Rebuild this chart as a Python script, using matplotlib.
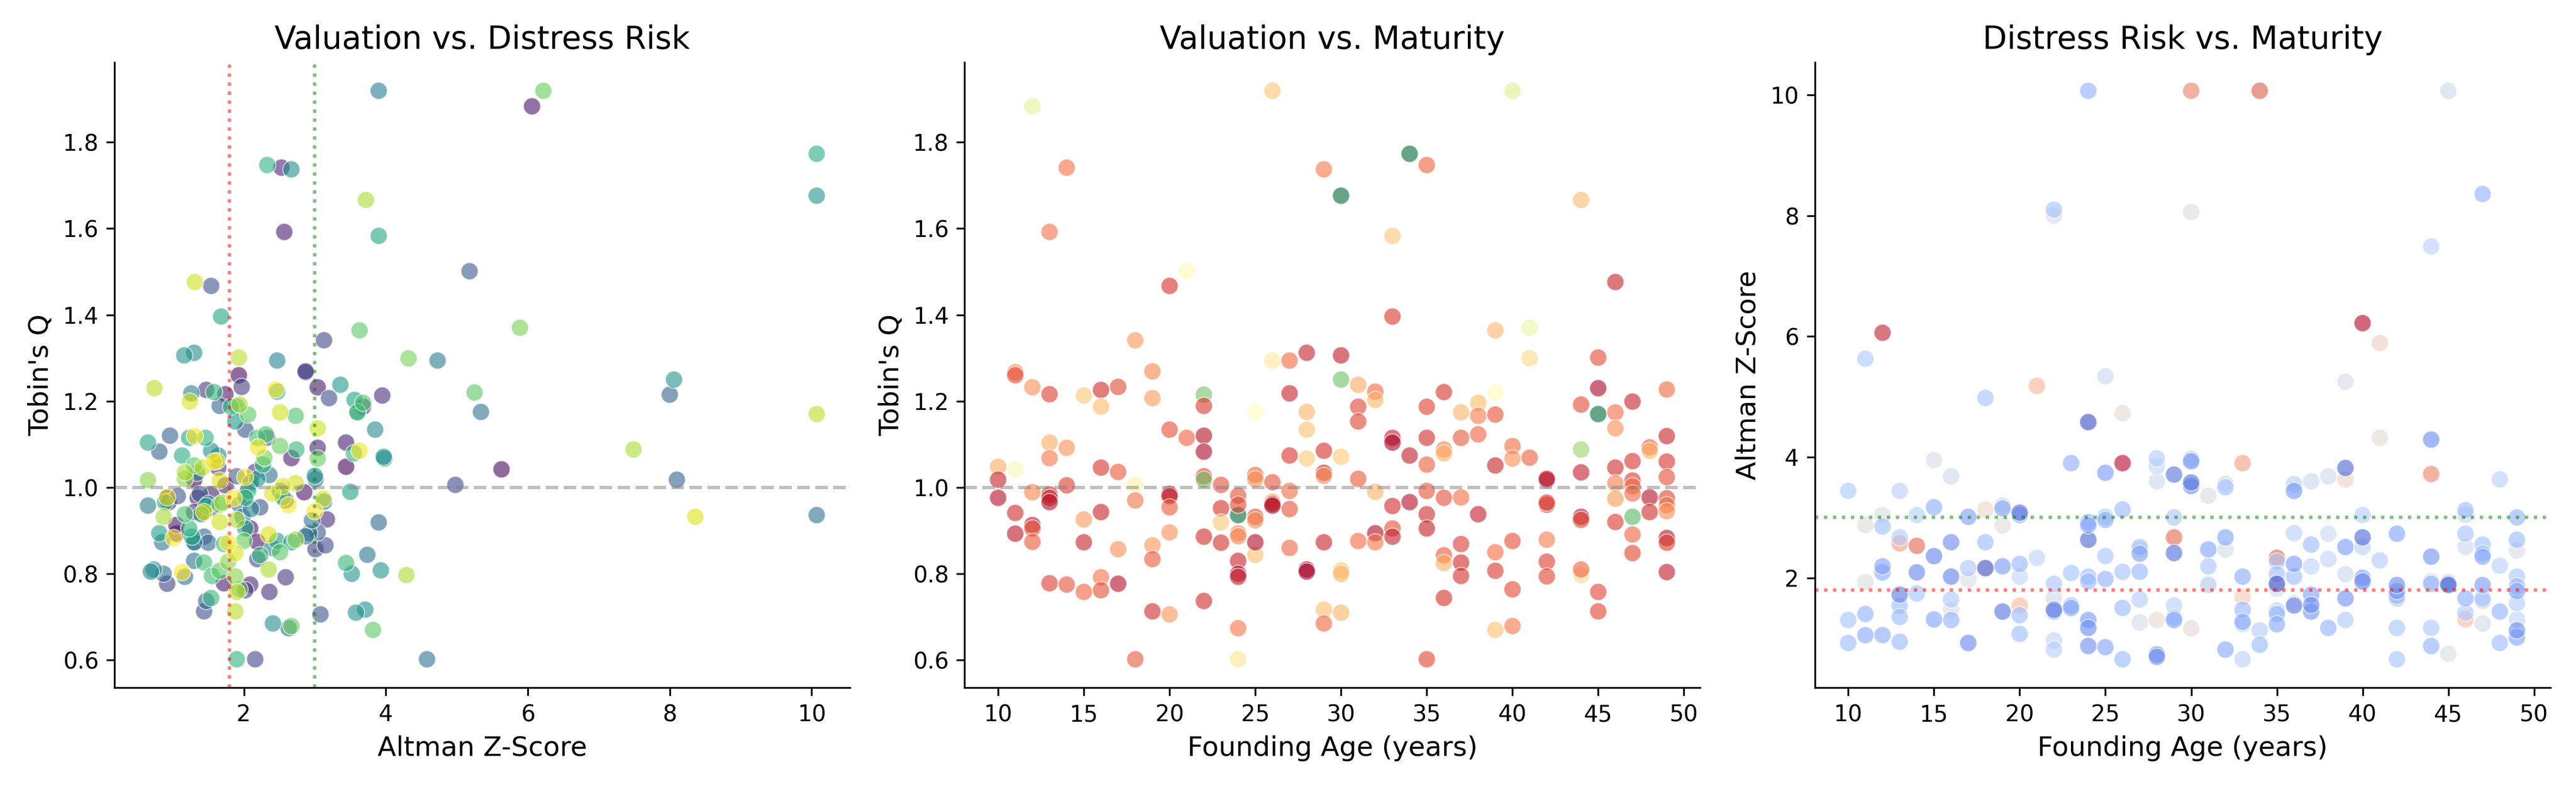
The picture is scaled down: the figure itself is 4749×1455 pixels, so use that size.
import matplotlib.pyplot as plt
import numpy as np

# firm data per founding age: (tobins_q, altman_z)
pairs_by_age = {
    10: [(1.048, 3.44), (1.018, 1.30), (0.976, 0.92)],
    11: [(1.267, 2.87), (1.260, 1.93), (1.042, 5.63), (0.941, 1.40), (0.893, 1.05)],
    12: [(1.883, 6.06), (1.232, 3.04), (0.989, 2.85), (0.913, 1.05), (0.905, 2.09), (0.874, 2.19)],
    13: [(1.592, 2.57), (1.216, 1.74), (1.104, 3.44), (1.068, 2.67), (0.984, 1.54), (0.976, 1.35),
         (0.966, 0.94), (0.778, 1.72)],
    14: [(1.741, 2.53), (1.092, 3.04), (1.005, 1.74), (0.775, 2.09)],
    15: [(1.213, 3.95), (0.926, 3.17), (0.873, 1.31), (0.758, 2.36)],
    16: [(1.226, 1.47), (1.187, 3.68), (1.046, 1.64), (0.943, 1.30), (0.792, 2.59), (0.762, 2.02)],
    17: [(1.233, 1.97), (1.036, 2.16), (0.857, 3.01), (0.777, 0.92)],
    18: [(1.341, 3.13), (1.006, 4.98), (0.970, 2.59), (0.602, 2.16)],
    19: [(1.269, 2.87), (1.207, 3.20), (0.866, 3.15), (0.834, 2.19), (0.713, 1.44)],
    20: [(1.467, 1.54), (1.134, 2.02), (0.985, 1.38), (0.980, 1.07), (0.954, 2.23), (0.896, 3.04),
         (0.706, 3.08)],
    21: [(1.501, 5.18), (1.115, 2.33)],
    22: [(1.215, 8.00), (1.189, 1.66), (1.120, 0.96), (1.083, 0.81), (1.026, 1.90), (1.018, 8.10),
         (0.886, 1.44), (0.737, 1.47)],
    23: [(1.006, 2.08), (0.952, 1.54), (0.919, 3.90), (0.872, 1.50)],
    24: [(0.936, 10.07), (0.602, 4.58), (0.674, 2.63), (0.894, 2.92), (0.887, 2.87), (0.981, 2.02),
         (0.960, 1.94), (0.830, 1.30), (0.800, 0.87), (0.793, 1.17)],
    25: [(1.175, 5.34), (0.844, 3.74), (1.029, 2.36), (1.019, 3.01), (0.932, 1.98), (0.924, 2.96),
         (0.873, 0.85)],
    26: [(1.919, 3.90), (1.294, 4.73), (0.967, 3.13), (1.012, 2.10), (0.962, 1.50), (0.958, 0.65)],
    27: [(1.294, 2.47), (1.218, 1.26), (1.074, 1.64), (0.992, 2.51), (0.950, 2.10), (0.860, 2.40)],
    28: [(1.312, 1.30), (1.175, 3.60), (1.134, 3.85), (1.067, 3.98), (0.810, 0.73), (0.805, 0.69)],
    29: [(1.737, 2.67), (1.085, 1.54), (1.034, 1.34), (1.027, 3.00), (0.873, 1.30), (0.717, 3.71),
         (0.685, 2.41)],
    30: [(1.676, 10.07), (1.306, 1.16), (1.250, 8.06), (1.071, 3.97), (0.808, 3.93), (0.800, 3.52),
         (0.710, 3.58)],
    31: [(1.238, 3.36), (1.187, 1.90), (1.153, 1.88), (1.020, 2.19), (0.876, 2.47)],
    32: [(1.222, 2.47), (1.203, 3.56), (0.990, 3.50), (0.894, 0.81), (0.873, 2.67)],
    33: [(1.583, 3.90), (1.396, 1.68), (1.115, 1.23), (1.104, 0.65), (0.957, 1.47), (0.905, 2.02),
         (0.886, 1.27)],
    34: [(1.773, 10.07), (1.074, 1.13), (0.966, 0.89)],
    35: [(1.747, 2.33), (1.187, 1.82), (1.115, 1.46), (1.053, 2.27), (0.992, 2.06), (0.938, 1.40),
         (0.905, 1.23), (0.602, 1.90)],
    36: [(1.221, 1.58), (1.088, 2.74), (1.079, 3.55), (0.976, 2.02), (0.843, 2.23), (0.825, 3.44),
         (0.744, 1.54)],
    37: [(1.174, 3.60), (1.115, 2.19), (0.977, 2.55), (0.869, 1.72), (0.826, 1.44), (0.795, 1.55)],
    38: [(1.196, 3.68), (1.166, 2.73), (1.123, 2.31), (0.938, 1.17)],
    39: [(1.364, 3.63), (1.220, 5.25), (1.169, 2.06), (1.051, 1.30), (0.850, 2.51), (0.807, 1.66),
         (0.670, 3.82)],
    40: [(1.919, 6.22), (1.096, 2.51), (1.067, 3.04), (0.876, 2.00), (0.764, 1.94), (0.679, 2.67)],
    41: [(1.370, 5.89), (1.299, 4.32), (1.069, 2.29)],
    42: [(1.017, 0.65), (1.020, 1.17), (0.960, 1.66), (0.965, 1.70), (0.879, 2.73), (0.828, 1.78),
         (0.794, 1.88)],
    44: [(1.666, 3.72), (1.088, 7.49), (0.797, 4.29), (1.192, 1.94), (1.035, 1.17), (0.932, 0.87),
         (0.925, 1.90), (0.810, 2.35)],
    45: [(1.170, 10.07), (1.230, 0.74), (1.301, 1.93), (0.758, 1.90), (0.713, 1.88)],
    46: [(1.476, 1.31), (1.174, 2.51), (1.137, 3.04), (1.046, 1.42), (1.010, 2.73), (0.974, 3.12),
         (0.920, 1.66)],
    47: [(0.932, 8.36), (1.199, 1.24), (1.061, 1.62), (1.016, 1.66), (1.003, 2.55), (0.986, 2.40),
         (0.891, 2.35), (0.848, 1.88)],
    48: [(1.093, 2.20), (1.085, 3.63), (0.977, 0.92), (0.943, 1.44)],
    49: [(1.227, 2.45), (1.119, 1.31), (1.060, 1.58), (1.024, 2.02), (0.975, 1.86), (0.959, 2.63),
         (0.945, 3.00), (0.883, 1.01), (0.872, 1.78), (0.804, 1.13)],
}

founding_age = np.array([a for a, lst in pairs_by_age.items() for _ in lst], dtype=float)
tobins_q = np.array([q for lst in pairs_by_age.values() for q, z in lst])
altman_z = np.array([z for lst in pairs_by_age.values() for q, z in lst])

fig, axes = plt.subplots(1, 3, figsize=(15.83, 4.85))
kw = dict(s=58, alpha=0.6, edgecolor='white', linewidth=0.5)

# 1) Tobin's Q vs Z-Score, colour = age
ax = axes[0]
ax.scatter(altman_z, tobins_q, c=founding_age, cmap='viridis', **kw)
ax.axvline(1.8, color='red', linestyle=':', alpha=0.5)
ax.axvline(3.0, color='green', linestyle=':', alpha=0.5)
ax.axhline(1.0, color='gray', linestyle='--', alpha=0.5)
ax.set_title('Valuation vs. Distress Risk', fontsize=14)
ax.set_xlabel('Altman Z-Score', fontsize=12)
ax.set_ylabel("Tobin's Q", fontsize=12)

# 2) Tobin's Q vs age, colour = Z-Score
ax = axes[1]
ax.scatter(founding_age, tobins_q, c=altman_z, cmap='RdYlGn', **kw)
ax.axhline(1.0, color='gray', linestyle='--', alpha=0.5)
ax.set_title('Valuation vs. Maturity', fontsize=14)
ax.set_xlabel('Founding Age (years)', fontsize=12)
ax.set_ylabel("Tobin's Q", fontsize=12)

# 3) Z-Score vs age, colour = Tobin's Q
ax = axes[2]
ax.scatter(founding_age, altman_z, c=tobins_q, cmap='coolwarm', **kw)
ax.axhline(3.0, color='green', linestyle=':', alpha=0.5)
ax.axhline(1.8, color='red', linestyle=':', alpha=0.5)
ax.set_title('Distress Risk vs. Maturity', fontsize=14)
ax.set_xlabel('Founding Age (years)', fontsize=12)
ax.set_ylabel('Altman Z-Score', fontsize=12)

for ax in axes:
    ax.spines['top'].set_visible(False)
    ax.spines['right'].set_visible(False)

plt.tight_layout()
plt.savefig('out.png', dpi=300)
